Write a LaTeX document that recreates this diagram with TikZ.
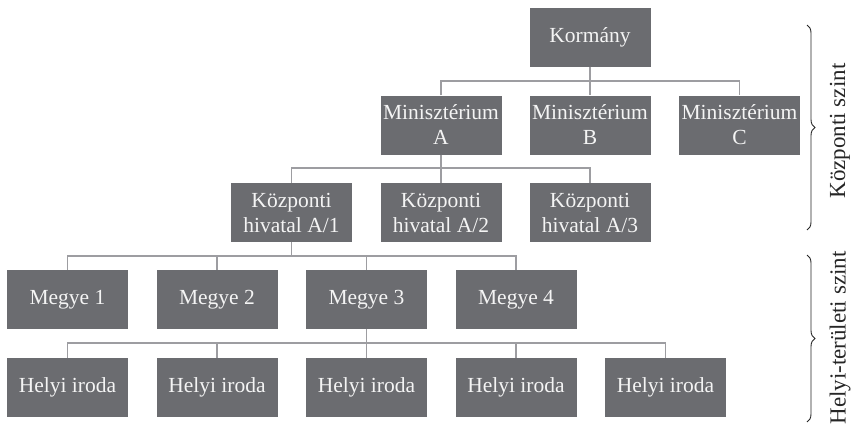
\documentclass[tikz,border=0pt]{standalone}
\usepackage{fontspec}
\setmainfont{Liberation Serif}
\usetikzlibrary{decorations.pathreplacing}
\definecolor{boxgray}{HTML}{6B6C70}
\definecolor{linegray}{HTML}{9D9DA1}
\definecolor{txt}{HTML}{F4F4F4}
\tikzset{
  orgbox/.style={fill=boxgray, minimum width=121pt, minimum height=59pt, inner sep=0pt,
    text=txt, align=center, font=\fontsize{21.5}{25}\selectfont},
  conn/.style={draw=linegray, line width=1.8pt},
  lbl/.style={rotate=90, font=\fontsize{23}{27}\selectfont, text=black!85},
  bracestyle/.style={decorate, decoration={brace, amplitude=8pt}, line width=0.9pt, draw=black!85}
}
\begin{document}
\begin{tikzpicture}[x=1pt, y=-1pt]
\useasboundingbox (0,0) rectangle (854,424);
% row 1
\node[orgbox] (K) at (590,37) {Kormány};
% row 2
\node[orgbox] (MA) at (441,125) {Minisztérium\\A};
\node[orgbox] (MB) at (590,125) {Minisztérium\\B};
\node[orgbox] (MC) at (739.5,125) {Minisztérium\\C};
% row 3
\node[orgbox] (H1) at (291.5,212.5) {Központi\\hivatal A/1};
\node[orgbox] (H2) at (441,212.5) {Központi\\hivatal A/2};
\node[orgbox] (H3) at (590,212.5) {Központi\\hivatal A/3};
% row 4
\node[orgbox] (M1) at (67.5,299.5) {Megye 1};
\node[orgbox] (M2) at (217,299.5) {Megye 2};
\node[orgbox] (M3) at (366.5,299.5) {Megye 3};
\node[orgbox] (M4) at (516,299.5) {Megye 4};
% row 5
\node[orgbox] (I1) at (67.5,387.5) {Helyi iroda};
\node[orgbox] (I2) at (217,387.5) {Helyi iroda};
\node[orgbox] (I3) at (366.5,387.5) {Helyi iroda};
\node[orgbox] (I4) at (516,387.5) {Helyi iroda};
\node[orgbox] (I5) at (665.5,387.5) {Helyi iroda};
% connectors
\draw[conn] (K.south) -- (MB.north);
\draw[conn] (MA.north) -- ++(0,-14) -| (MC.north);
\draw[conn] (MA.south) -- (H2.north);
\draw[conn] (H1.north) -- ++(0,-14.5) -| (H3.north);
\draw[conn] (H1.south) -- ++(0,14);
\draw[conn] (M1.north) -- ++(0,-14) -| (M4.north);
\draw[conn] (M2.north) -- ++(0,-14);
\draw[conn] (M3.north) -- ++(0,-14);
\draw[conn] (M3.south) -- (I3.north);
\draw[conn] (I1.north) -- ++(0,-14.5) -| (I5.north);
\draw[conn] (I2.north) -- ++(0,-14.5);
\draw[conn] (I4.north) -- ++(0,-14.5);
% braces
\coordinate (b1t) at (807,25);
\coordinate (b1b) at (807,230);
\coordinate (b2t) at (807,255);
\coordinate (b2b) at (807,422);
\draw[bracestyle] (b1t) -- (b1b);
\draw[bracestyle] (b2t) -- (b2b);
\node[lbl] (L1) at (840,131) {Központi szint};
\node[lbl] (L2) at (840,338) {Helyi-területi szint};
\end{tikzpicture}
\end{document}
